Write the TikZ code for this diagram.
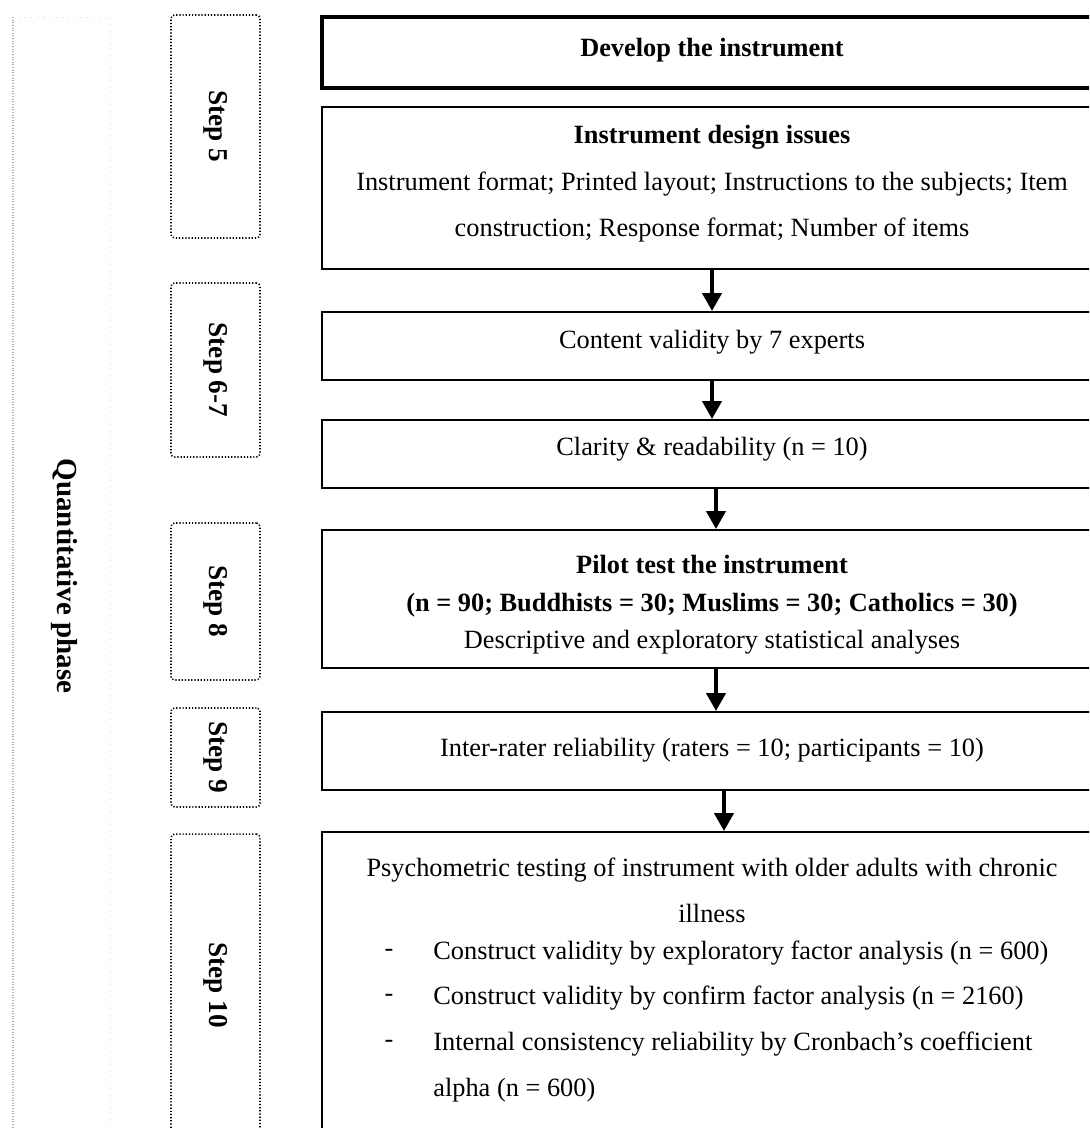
\documentclass[tikz,border=0pt]{standalone}
\usepackage{fontspec}
\setmainfont{Liberation Serif}
\usetikzlibrary{arrows.meta}
\begin{document}
\begin{tikzpicture}[x=0.02cm,y=-0.02cm,
  txt/.style={font=\fontsize{15}{17}\selectfont, inner sep=0pt},
  btxt/.style={txt, font=\fontsize{15}{17}\selectfont\bfseries},
  mainbox/.style={draw, line width=1.1pt, minimum width=15.6cm, inner sep=0pt},
  stepbox/.style={draw, line width=0.9pt, dash pattern=on 0.7pt off 1.1pt,
    rounded corners=2pt, minimum width=1.78cm, inner sep=0pt},
  steplabel/.style={font=\fontsize{15.5}{17}\selectfont\bfseries, rotate=-90, inner sep=0pt},
  flow/.style={line width=2.3pt, -{Triangle[width=0.38cm,length=0.36cm]}}
]
\useasboundingbox (0,0) rectangle (1089,1128);
\begin{scope}
\clip (0,0) rectangle (1089,1128);

% outer phase frame
\coordinate (pTL) at (13,17);
\coordinate (pTR) at (110,17);
\coordinate (pBL) at (13,1140);
\coordinate (pBR) at (110,1140);
\draw[gray!65, line width=0.6pt, dash pattern=on 0.5pt off 1pt] (pTL) -- (pBL);
\draw[gray!30, line width=0.5pt, dash pattern=on 0.5pt off 3pt] (pTL) -- (pTR) -- (pBR);
\node[font=\fontsize{16.5}{18}\selectfont\bfseries, rotate=-90, inner sep=0pt] (phaselbl) at (64,576) {Quantitative phase};

% step frames
\node[stepbox, minimum height=4.46cm] (s5) at (215.5,126.5) {};
\node[steplabel] (s5l) at (s5.center) {Step 5};
\node[stepbox, minimum height=3.48cm] (s67) at (215.5,370) {};
\node[steplabel] (s67l) at (s67.center) {Step 6-7};
\node[stepbox, minimum height=3.14cm] (s8) at (215.5,601.5) {};
\node[steplabel] (s8l) at (s8.center) {Step 8};
\node[stepbox, minimum height=1.98cm] (s9) at (215.5,757.5) {};
\node[steplabel] (s9l) at (s9.center) {Step 9};
\node[stepbox, minimum height=6.52cm] (s10) at (215.5,997) {};
\node[steplabel] (s10l) at (215.5,985) {Step 10};

% process boxes
\node[mainbox, line width=2.2pt, minimum height=1.42cm] (b1) at (712,52.5) {};
\node[btxt] (b1t) at (712,50) {Develop the instrument};

\node[mainbox, minimum height=3.24cm] (b2) at (712,188) {};
\node[btxt] (b2a) at (712,137) {Instrument design issues};
\node[txt] (b2b) at (712,184) {Instrument format; Printed layout; Instructions to the subjects; Item};
\node[txt] (b2c) at (712,230) {construction; Response format; Number of items};

\node[mainbox, minimum height=1.36cm] (b3) at (712,346) {};
\node[txt] (b3t) at (712,342) {Content validity by 7 experts};

\node[mainbox, minimum height=1.36cm] (b4) at (712,454) {};
\node[txt] (b4t) at (712,449) {Clarity \& readability (n = 10)};

\node[mainbox, minimum height=2.76cm] (b5) at (712,599) {};
\node[btxt] (b5a) at (712,565) {Pilot test the instrument};
\node[btxt] (b5b) at (712,605) {(n = 90; Buddhists = 30; Muslims = 30; Catholics = 30)};
\node[txt] (b5c) at (712,642) {Descriptive and exploratory statistical analyses};

\node[mainbox, minimum height=1.56cm] (b6) at (712,751) {};
\node[txt] (b6t) at (712,750) {Inter-rater reliability (raters = 10; participants = 10)};

\node[mainbox, minimum height=6.56cm] (b7) at (712,996) {};
\node[txt] (b7a) at (712,870) {Psychometric testing of instrument with older adults with chronic};
\node[txt] (b7b) at (712,913) {illness};
\node[txt] (d1) at (389,953) {-};
\node[txt, anchor=west] (b7c) at (433,953) {Construct validity by exploratory factor analysis (n = 600)};
\node[txt] (d2) at (389,998) {-};
\node[txt, anchor=west] (b7d) at (433,998) {Construct validity by confirm factor analysis (n = 2160)};
\node[txt] (d3) at (389,1044) {-};
\node[txt, anchor=west] (b7e) at (433,1044) {Internal consistency reliability by Cronbach's coefficient};
\node[txt, anchor=west] (b7f) at (433,1090) {alpha (n = 600)};

% flow arrows
\draw[flow] (b2.south) -- (b3.north);
\draw[flow] (b3.south) -- (b4.north);
\draw[flow] ([xshift=0.08cm]b4.south) -- ([xshift=0.08cm]b5.north);
\draw[flow] ([xshift=0.08cm]b5.south) -- ([xshift=0.08cm]b6.north);
\draw[flow] ([xshift=0.24cm]b6.south) -- ([xshift=0.24cm]b7.north);
\end{scope}
\end{tikzpicture}
\end{document}
